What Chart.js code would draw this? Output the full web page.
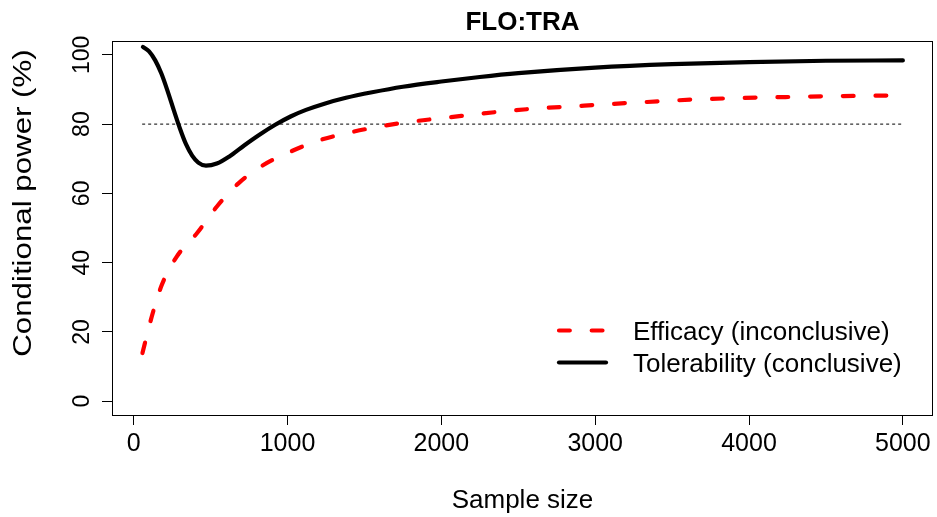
<!DOCTYPE html>
<html>
<head>
<meta charset="utf-8">
<script src="https://cdn.jsdelivr.net/npm/chart.js@4.4.1/dist/chart.umd.min.js"></script>
<style>
  html, body { margin: 0; padding: 0; background: #fff; }
  #wrap { width: 937px; height: 517px; position: relative; }
</style>
</head>
<body>
<div id="wrap"><canvas id="chart"></canvas></div>
<script>
const chartTitle = 'FLO:TRA';
const xTitle = 'Sample size';
const yTitle = 'Conditional power (%)';
const xTicks = [0, 1000, 2000, 3000, 4000, 5000];
const yTicks = [0, 20, 40, 60, 80, 100];

const efficacyLabel = 'Efficacy (inconclusive)';
const efficacySize = [57, 118, 183, 281, 411, 541, 681, 843, 1017, 1212, 1428, 1623, 1840, 2057, 2273, 2555, 2880, 3300, 3702, 4331, 5000];
const efficacyPower = [13.9, 24.5, 33.6, 41.8, 48.5, 56.2, 62.9, 68.2, 72.0, 75.4, 77.8, 79.5, 80.9, 82.0, 83.1, 84.3, 85.2, 86.3, 87.2, 87.9, 88.3];

const tolerabilityLabel = 'Tolerability (conclusive)';
const tolerabilitySize = [60, 100, 140, 180, 220, 260, 300, 340, 380, 420, 470, 540, 620, 720, 820, 920, 1020, 1120, 1240, 1380, 1550, 1750, 2000, 2250, 2500, 3000, 3500, 4000, 4500, 5000];
const tolerabilityPower = [102.3, 101.0, 98.4, 94.6, 89.6, 84.1, 78.8, 74.2, 70.9, 68.9, 68.0, 68.6, 70.6, 73.9, 77.0, 79.8, 82.2, 84.1, 85.9, 87.6, 89.2, 90.8, 92.3, 93.6, 94.7, 96.3, 97.3, 97.9, 98.3, 98.4];

const targetSize = [55, 5000];
const targetPower = [80, 80];

const FONT = "'Liberation Sans', Arial, sans-serif";

function toPoints(xs, ys) {
  return xs.map((x, i) => ({ x, y: ys[i] }));
}

const rFrame = {
  id: 'rFrame',
  afterDraw(chart) {
    const { ctx, chartArea: a, scales } = chart;
    ctx.save();
    ctx.strokeStyle = '#000';
    ctx.lineWidth = 1;
    ctx.strokeRect(a.left + 0.5, a.top + 0.5, a.right - a.left - 1, a.bottom - a.top);

    ctx.fillStyle = '#000';
    // y tick labels, turned like R's default
    ctx.font = `23px ${FONT}`;
    ctx.textAlign = 'center';
    ctx.textBaseline = 'alphabetic';
    yTicks.forEach((v) => {
      const y = scales.y.getPixelForValue(v);
      ctx.save();
      ctx.translate(88.5, y);
      ctx.rotate(-Math.PI / 2);
      ctx.fillText(String(v), 0, 0);
      ctx.restore();
    });

    // y axis title (drawn a bit stretched along its length, as in the source)
    ctx.save();
    ctx.font = `25px ${FONT}`;
    ctx.translate(31, 203);
    ctx.rotate(-Math.PI / 2);
    ctx.scale(1.25, 1);
    ctx.fillText(yTitle, 0, 0);
    ctx.restore();

    // x axis title
    ctx.font = `26px ${FONT}`;
    ctx.fillText(xTitle, (a.left + a.right) / 2, 508);

    // main title
    ctx.font = `bold 26px ${FONT}`;
    ctx.fillText(chartTitle, (a.left + a.right) / 2, 30);

    // legend
    ctx.textAlign = 'left';
    ctx.font = `26px ${FONT}`;
    const rows = [chart.data.datasets[0], chart.data.datasets[1]];
    rows.forEach((ds, i) => {
      const y = 330.5 + i * 32;
      ctx.save();
      ctx.strokeStyle = ds.borderColor;
      ctx.lineWidth = ds.borderWidth;
      ctx.lineCap = 'round';
      ctx.setLineDash(ds.borderDash || []);
      ctx.beginPath();
      ctx.moveTo(559, y);
      ctx.lineTo(606, y);
      ctx.stroke();
      ctx.restore();
      ctx.fillText(ds.label, 633, y + 9);
    });
    ctx.restore();
  }
};

new Chart(document.getElementById('chart'), {
  type: 'line',
  data: {
    datasets: [
      {
        label: efficacyLabel,
        data: toPoints(efficacySize, efficacyPower),
        borderColor: '#ff0000',
        borderWidth: 4.2,
        borderDash: [10.8, 21.9],
        borderCapStyle: 'round',
        pointRadius: 0,
        cubicInterpolationMode: 'monotone',
        fill: false
      },
      {
        label: tolerabilityLabel,
        data: toPoints(tolerabilitySize, tolerabilityPower),
        borderColor: '#000000',
        borderWidth: 4.2,
        borderCapStyle: 'round',
        borderJoinStyle: 'round',
        pointRadius: 0,
        cubicInterpolationMode: 'monotone',
        fill: false
      },
      {
        label: 'target',
        data: toPoints(targetSize, targetPower),
        borderColor: '#000000',
        borderWidth: 1,
        borderDash: [3, 3],
        pointRadius: 0,
        fill: false
      }
    ]
  },
  options: {
    responsive: true,
    maintainAspectRatio: false,
    animation: false,
    devicePixelRatio: 1,
    layout: { padding: { top: 41, right: 4, left: 0, bottom: 0 } },
    plugins: {
      legend: { display: false },
      title: { display: false },
      tooltip: { enabled: false }
    },
    scales: {
      x: {
        type: 'linear',
        min: -141,
        max: 5196,
        afterBuildTicks: (s) => { s.ticks = xTicks.map((v) => ({ value: v })); },
        afterFit: (s) => { s.height = 102; },
        border: { display: false },
        grid: { drawOnChartArea: false, drawTicks: true, tickLength: 10, tickColor: '#000', tickWidth: 1 },
        ticks: {
          color: '#000',
          font: { family: FONT, size: 25 },
          padding: 4,
          maxRotation: 0,
          autoSkip: false,
          callback: (v) => String(v)
        }
      },
      y: {
        type: 'linear',
        min: -4,
        max: 104,
        afterBuildTicks: (s) => { s.ticks = yTicks.map((v) => ({ value: v })); },
        afterFit: (s) => { s.width = 112; },
        border: { display: false },
        grid: { drawOnChartArea: false, drawTicks: true, tickLength: 10, tickColor: '#000', tickWidth: 1 },
        ticks: { display: false }
      }
    }
  },
  plugins: [rFrame]
});
</script>
</body>
</html>
